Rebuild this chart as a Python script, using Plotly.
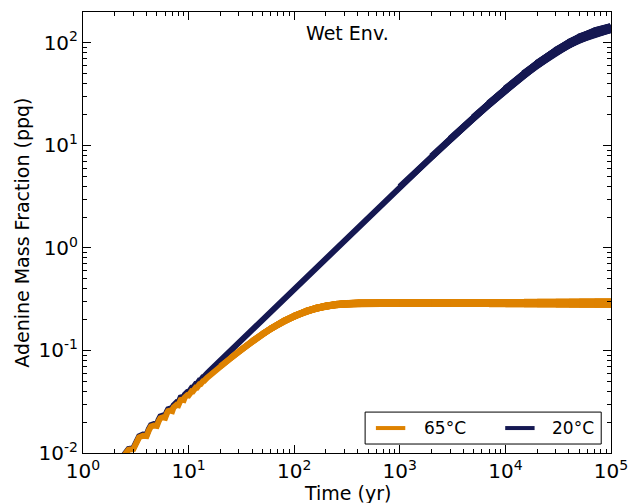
import plotly.graph_objects as go

# ---------------- data ----------------
time_yr = [2.3, 2.7,
           3.0, 3.2, 3.4, 3.7, 4.0, 4.2, 4.4, 4.7, 5.0, 5.2, 5.4, 5.7,
           6.0, 6.2, 6.4, 6.7, 7.0, 7.2, 7.4, 7.7, 8.0, 8.2, 8.4, 8.7,
           9.0, 9.2, 9.4, 9.7, 10.0, 10.2, 10.4, 10.7, 11.0, 11.2, 11.4, 11.7,
           12.0, 12.2, 12.4, 12.7, 13.0, 13.2, 13.4, 13.7, 14.0, 14.4,
           15, 16, 18, 20, 25, 30, 40, 50, 60, 80, 100, 130, 160, 200, 250, 300,
           400, 600, 1000, 2000, 3000, 5000, 7000, 10000, 15000, 20000, 30000,
           40000, 50000, 70000, 100000]

adenine_65C = [0.00866, 0.01075,
               0.01093, 0.01279, 0.01421, 0.01473, 0.01463, 0.01661, 0.01811, 0.01853,
               0.01836, 0.02037, 0.02186, 0.02225, 0.0220, 0.02409, 0.0256, 0.02594,
               0.02562, 0.02775, 0.02926, 0.02957, 0.02924, 0.03134, 0.03284, 0.03314,
               0.03284, 0.03487, 0.03633, 0.03665, 0.03639, 0.03836, 0.03976, 0.0401,
               0.03992, 0.04179, 0.04312, 0.04351, 0.04344, 0.04516, 0.04641, 0.04685,
               0.04694, 0.04847, 0.04962, 0.05014, 0.05042, 0.05276,
               0.0542, 0.0574, 0.0638, 0.0699, 0.0846, 0.0983, 0.123, 0.1445, 0.1633, 0.1938,
               0.217, 0.2417, 0.258, 0.2716, 0.2808, 0.2854, 0.2889, 0.2899, 0.29, 0.29, 0.29,
               0.29, 0.29, 0.29, 0.29, 0.29, 0.29, 0.29, 0.29, 0.29, 0.29]

adenine_20C = [0.0088, 0.01095,
               0.01116, 0.01307, 0.01455, 0.01511, 0.01504, 0.0171, 0.01866, 0.01914,
               0.019, 0.02111, 0.02268, 0.02314, 0.02292, 0.02513, 0.02675, 0.02716,
               0.02688, 0.02915, 0.03078, 0.03117, 0.03088, 0.03314, 0.03478, 0.03517,
               0.03492, 0.03713, 0.03873, 0.03915, 0.03896, 0.04112, 0.04268, 0.04313,
               0.04303, 0.0451, 0.0466, 0.04711, 0.04714, 0.04906, 0.05049, 0.05107,
               0.05127, 0.05302, 0.05435, 0.05503, 0.05544, 0.05818,
               0.06, 0.064, 0.072, 0.08, 0.1, 0.12, 0.16, 0.2, 0.24, 0.32,
               0.4, 0.52, 0.64, 0.8, 1.0, 1.2, 1.598, 2.395, 3.947, 7.79, 11.53,
               18.73, 25.5, 35.1, 49.5, 62.0, 82.6, 98.4, 110.5, 126.8, 139.6]

series_names = ["65\u00b0C", "20\u00b0C"]

x_tick_vals = [1, 10, 100, 1000, 10000, 100000]
x_tick_text = ["10<sup>0</sup>", "10<sup>1</sup>", "10<sup>2</sup>",
               "10<sup>3</sup>", "10<sup>4</sup>", "10<sup>5</sup>"]
y_tick_vals = [0.01, 0.1, 1, 10, 100]
y_tick_text = ["10<sup>-2</sup>", "10<sup>-1</sup>", "10<sup>0</sup>",
               "10<sup>1</sup>", "10<sup>2</sup>"]

# ---------------- styling ----------------
ORANGE = "#DE8200"
NAVY = "#151852"
FONT = "DejaVu Sans"

fig = go.Figure()


def add_band(t, v, color, base_w, grow_from, max_w):
    """Line whose drawn thickness widens gradually (seasonal wiggle envelope)."""
    fig.add_trace(go.Scatter(x=t, y=v, mode="lines", line=dict(color=color, width=base_w),
                             showlegend=False, hoverinfo="skip"))
    starts = [i for i, a in enumerate(t) if a >= grow_from][:-1]
    n = len(starts)
    for k, i0 in enumerate(starts):
        w = base_w + (max_w - base_w) * (k + 1) / n
        fig.add_trace(go.Scatter(x=t[i0:], y=v[i0:], mode="lines",
                                 line=dict(color=color, width=w),
                                 showlegend=False, hoverinfo="skip"))


add_band(time_yr, adenine_20C, NAVY, 6, 1000, 10)
add_band(time_yr, adenine_65C, ORANGE, 6, 20, 9)

axis_common = dict(
    type="log", showgrid=False, zeroline=False,
    showline=True, linecolor="black", linewidth=1, mirror="ticks",
    ticks="inside", ticklen=8, tickwidth=1, tickcolor="black",
    tickfont=dict(family=FONT, size=20, color="black"),
    ticklabeloverflow="allow",
    minor=dict(ticks="inside", ticklen=4, tickwidth=1, tickcolor="black",
               dtick="D1", showgrid=False),
)

fig.update_xaxes(range=[0, 5], tickmode="array", tickvals=x_tick_vals,
                 ticktext=x_tick_text, **axis_common)
fig.update_yaxes(range=[-2, 2.30103], tickmode="array", tickvals=y_tick_vals,
                 ticktext=y_tick_text, **axis_common)

PL, PR, PT, PB = 83, 622, 11, 453
W, H = 639, 503


def px_x(px):
    return (px - PL) / (PR - PL)


def px_y(py):
    return (PB - py) / (PB - PT)


# legend box drawn in the reference's lower-right position
LEG_Y = 428
shapes = [
    dict(type="rect", xref="paper", yref="paper", x0=px_x(371), x1=px_x(612),
         y0=px_y(444), y1=px_y(412), line=dict(color="black", width=1),
         fillcolor="white", layer="above"),
    dict(type="line", xref="paper", yref="paper", x0=px_x(382), x1=px_x(412),
         y0=px_y(LEG_Y), y1=px_y(LEG_Y), line=dict(color=ORANGE, width=4), layer="above"),
    dict(type="line", xref="paper", yref="paper", x0=px_x(514), x1=px_x(544),
         y0=px_y(LEG_Y), y1=px_y(LEG_Y), line=dict(color=NAVY, width=4), layer="above"),
]

annotations = [
    dict(text="Wet Env.", x=0.5, y=px_y(32), xref="paper", yref="paper",
         showarrow=False, font=dict(family=FONT, size=19, color="black"),
         xanchor="center", yanchor="middle"),
    dict(text="Time (yr)", x=0.5, y=px_y(493), xref="paper", yref="paper",
         showarrow=False, font=dict(family=FONT, size=19, color="black"),
         xanchor="center", yanchor="middle"),
    dict(text="Adenine Mass Fraction (ppq)", x=px_x(20), y=0.5,
         xref="paper", yref="paper", textangle=-90,
         showarrow=False, font=dict(family=FONT, size=19, color="black"),
         xanchor="center", yanchor="middle"),
    dict(text=series_names[0], x=px_x(429), y=px_y(LEG_Y), xref="paper", yref="paper",
         showarrow=False, font=dict(family=FONT, size=17, color="black"),
         xanchor="left", yanchor="middle"),
    dict(text=series_names[1], x=px_x(560), y=px_y(LEG_Y), xref="paper", yref="paper",
         showarrow=False, font=dict(family=FONT, size=17, color="black"),
         xanchor="left", yanchor="middle"),
]

fig.update_layout(
    width=W, height=H,
    margin=dict(l=PL, r=W - PR, t=PT, b=H - PB, pad=0),
    plot_bgcolor="white", paper_bgcolor="white",
    font=dict(family=FONT, color="black"),
    showlegend=False,
    shapes=shapes,
    annotations=annotations,
)

fig.write_html("out.html")
